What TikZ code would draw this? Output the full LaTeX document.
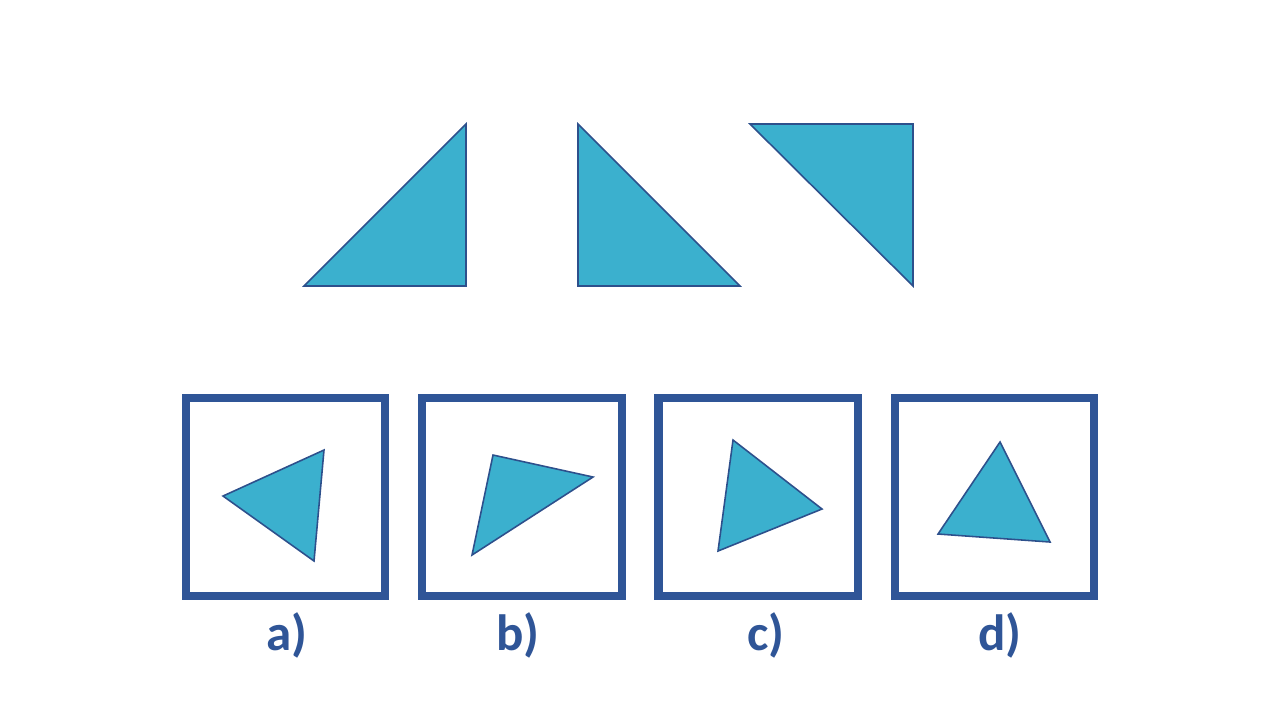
\documentclass[tikz,border=0pt]{standalone}
\usepackage{fontspec}
\setmainfont{Carlito}
\usetikzlibrary{positioning}
\definecolor{frameblue}{RGB}{47,85,151}
\definecolor{trifill}{RGB}{59,176,206}
\definecolor{triline}{RGB}{45,80,140}
\tikzstyle{tri}=[fill=trifill, draw=triline, line width=0.45pt, line join=miter]
\tikzstyle{optbox}=[rectangle, draw=frameblue, line width=2.3pt,
  minimum width=1.99cm, minimum height=1.98cm, inner sep=0pt]
\tikzstyle{optlbl}=[anchor=base, text=frameblue, font=\fontsize{14.5}{16}\selectfont\bfseries]

\begin{document}
\begin{tikzpicture}[x=0.01cm, y=-0.01cm]
        \useasboundingbox (0,0) rectangle (1280,720);
        % sequence
        \draw[tri] (304,286) -- (466,124) -- (466,286) -- cycle;
        \draw[tri] (578,124) -- (578,286) -- (740,286) -- cycle;
        \draw[tri] (750,124) -- (913,124) -- (913,286) -- cycle;
        % answer boxes
        \node[optbox] (boxa) at (285.5,497) {};
        \node[optbox] (boxb) at (522,497) {};
        \node[optbox] (boxc) at (758,497) {};
        \node[optbox] (boxd) at (994.5,497) {};
        \draw[tri] (223,496) -- (324,450) -- (314,561) -- cycle;
        \draw[tri] (493,455) -- (593,477) -- (472,555) -- cycle;
        \draw[tri] (733,440) -- (822,509) -- (718,551) -- cycle;
        \draw[tri] (1000,442) -- (1050,542) -- (938,534) -- cycle;
        \node[optlbl] (lbla) at (287,650) {a)};
        \node[optlbl] (lblb) at (518,650) {b)};
        \node[optlbl] (lblc) at (766,650) {c)};
        \node[optlbl] (lbld) at (1000,650) {d)};
      \end{tikzpicture}
\end{document}
